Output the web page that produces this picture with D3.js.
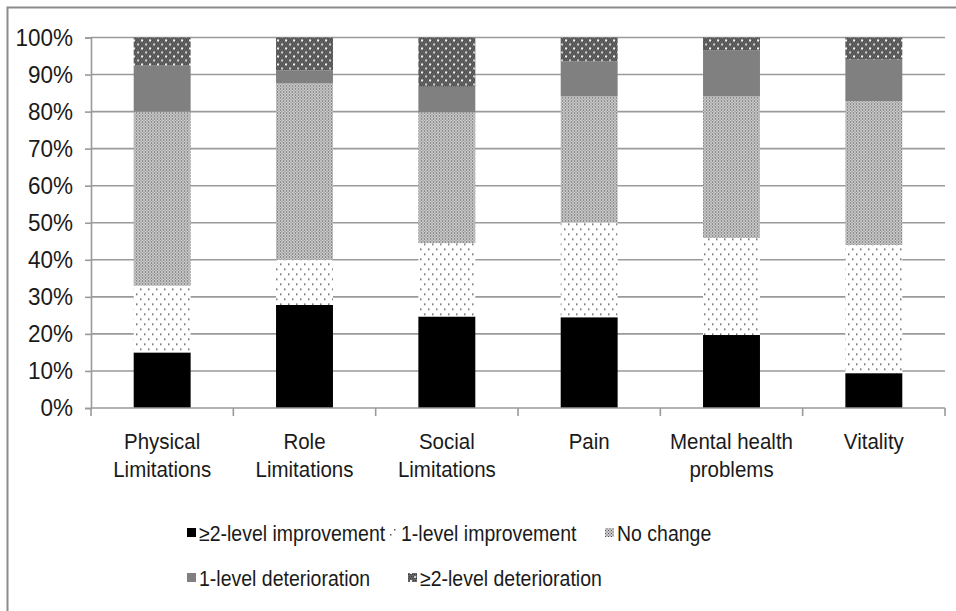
<!DOCTYPE html>
<html>
<head>
<meta charset="utf-8">
<script src="https://cdn.jsdelivr.net/npm/d3@7"></script>
<style>
  body { margin: 0; background: #fff; }
  text { font-family: "Liberation Sans", Arial, sans-serif; fill: #1a1a1a; }
</style>
</head>
<body>
<div id="chart"></div>
<script>
// categories (split over two lines like the original)
var categories = ["Physical Limitations", "Role Limitations", "Social Limitations", "Pain", "Mental health problems", "Vitality"];
var catLines = [["Physical", "Limitations"], ["Role", "Limitations"], ["Social", "Limitations"], ["Pain"], ["Mental health", "problems"], ["Vitality"]];

// percentages
var improve2 = [15.0, 27.8, 24.7, 24.5, 19.7, 9.4];
var improve1 = [18.0, 12.2, 19.8, 25.6, 26.2, 34.6];
var noChange = [47.0, 47.6, 35.3, 34.0, 38.2, 38.8];
var deter1   = [12.4, 3.5, 6.9, 9.5, 12.5, 11.2];
var deter2   = [7.6, 8.9, 13.3, 6.4, 3.4, 6.0];

var seriesNames = ["\u22652-level improvement", "1-level improvement", "No change", "1-level deterioration", "\u22652-level deterioration"];
var yTicks = [0, 10, 20, 30, 40, 50, 60, 70, 80, 90, 100];

var W = 956, H = 611;
var margin = {top: 37.5, right: 11, bottom: 203, left: 91};
var width = W - margin.left - margin.right;
var height = H - margin.top - margin.bottom;
var stretch = 1.1; // the original text is a bit taller than it is wide

var svg = d3.select("#chart").append("svg")
  .attr("width", W)
  .attr("height", H);

// outer frame (only left/top edges visible)
svg.append("rect")
  .attr("x", 7.5).attr("y", 7.5)
  .attr("width", 960).attr("height", 620)
  .attr("fill", "none").attr("stroke", "#8c8c8c").attr("stroke-width", 2);

// patterns
var defs = svg.append("defs");

// sparse dots for 1-level improvement
var p1 = defs.append("pattern").attr("id", "pImp1")
  .attr("patternUnits", "userSpaceOnUse").attr("width", 8).attr("height", 10);
p1.append("rect").attr("width", 8).attr("height", 10).attr("fill", "#fff");
p1.append("rect").attr("x", 1).attr("y", 1).attr("width", 1.5).attr("height", 1.5).attr("fill", "#555");
p1.append("rect").attr("x", 5).attr("y", 6).attr("width", 1.5).attr("height", 1.5).attr("fill", "#555");

// fine checker for no change
var p2 = defs.append("pattern").attr("id", "pNo")
  .attr("patternUnits", "userSpaceOnUse").attr("width", 3).attr("height", 3);
p2.append("rect").attr("width", 3).attr("height", 3).attr("fill", "#d0d0d0");
p2.append("rect").attr("x", 0).attr("y", 0).attr("width", 1).attr("height", 1).attr("fill", "#4a4a4a");
p2.append("rect").attr("x", 1.5).attr("y", 1.5).attr("width", 1).attr("height", 1).attr("fill", "#4a4a4a");

// dark checker with white dots for >=2-level deterioration
var p3 = defs.append("pattern").attr("id", "pDet2")
  .attr("patternUnits", "userSpaceOnUse").attr("width", 8).attr("height", 8);
p3.append("rect").attr("width", 8).attr("height", 8).attr("fill", "#666");
for (var i = 0; i < 8; i += 2) {
  for (var j = 0; j < 8; j += 2) {
    p3.append("rect").attr("x", i + ((j / 2) % 2)).attr("y", j).attr("width", 1).attr("height", 1).attr("fill", "#3c3c3c");
  }
}
p3.append("rect").attr("x", 2).attr("y", 2).attr("width", 2).attr("height", 2).attr("fill", "#f2f2f2");
p3.append("rect").attr("x", 6).attr("y", 6).attr("width", 2).attr("height", 2).attr("fill", "#cfcfcf");

var fills = ["#000", "url(#pImp1)", "url(#pNo)", "#808080", "url(#pDet2)"];

var g = svg.append("g")
  .attr("transform", "translate(" + margin.left + "," + margin.top + ")");

var x = d3.scaleBand().domain(categories).range([0, width]).paddingInner(0.6).paddingOuter(0.3);
var xTickScale = d3.scaleBand().domain(categories).range([0, width]);
var y = d3.scaleLinear().domain([0, 100]).range([height, 0]);

// gridlines
g.selectAll(".grid").data(yTicks.slice(1)).enter().append("line")
  .attr("x1", 0).attr("x2", width)
  .attr("y1", function(d) { return y(d); }).attr("y2", function(d) { return y(d); })
  .attr("stroke", "#9a9a9a").attr("stroke-width", 1.6);

// stacked data
var rows = categories.map(function(c, i) {
  return {cat: c, s0: improve2[i], s1: improve1[i], s2: noChange[i], s3: deter1[i], s4: deter2[i]};
});
var stack = d3.stack().keys(["s0", "s1", "s2", "s3", "s4"]);
var layers = stack(rows);

g.selectAll(".layer").data(layers).enter().append("g")
  .attr("fill", function(d, i) { return fills[i]; })
  .selectAll("rect").data(function(d) { return d; }).enter().append("rect")
  .attr("x", function(d) { return x(d.data.cat); })
  .attr("width", x.bandwidth())
  .attr("y", function(d) { return y(d[1]); })
  .attr("height", function(d) { return y(d[0]) - y(d[1]); });

// y axis
var yAxis = g.append("g")
  .call(d3.axisLeft(y).tickValues(yTicks).tickSize(6).tickPadding(12).tickFormat(function(d) { return d + "%"; }));
yAxis.select(".domain").attr("stroke", "#9a9a9a").attr("stroke-width", 1.6);
yAxis.selectAll(".tick line").attr("stroke", "#9a9a9a").attr("stroke-width", 1.6);
yAxis.selectAll(".tick text")
  .style("font-size", "22.5px").style("font-family", "Liberation Sans, Arial, sans-serif")
  .attr("fill", "#1a1a1a")
  .attr("transform", "scale(1," + stretch + ")");

// x axis line + category separators
g.append("line").attr("x1", 0).attr("x2", width).attr("y1", height).attr("y2", height)
  .attr("stroke", "#9a9a9a").attr("stroke-width", 1.6);
var sepPos = categories.map(function(c) { return xTickScale(c); }).concat([width]);
g.selectAll(".sep").data(sepPos).enter().append("line")
  .attr("x1", function(d) { return d; }).attr("x2", function(d) { return d; })
  .attr("y1", height).attr("y2", height + 8)
  .attr("stroke", "#9a9a9a").attr("stroke-width", 1.6);

// category labels
var lbl = g.selectAll(".cat").data(catLines).enter().append("text")
  .attr("text-anchor", "middle")
  .style("font-size", "20.5px")
  .attr("transform", function(d, i) {
    return "translate(" + (xTickScale(categories[i]) + xTickScale.bandwidth() / 2) + "," + (height + 41) + ") scale(1," + stretch + ")";
  });
lbl.selectAll("tspan").data(function(d) { return d; }).enter().append("tspan")
  .attr("x", 0).attr("dy", function(d, i) { return i === 0 ? 0 : 28 / stretch; })
  .text(function(d) { return d; });

// legend
var legendPos = [
  {x: 187, y: 533}, {x: 389, y: 533}, {x: 605, y: 533},
  {x: 187, y: 578}, {x: 408, y: 578}
];
var leg = svg.selectAll(".leg").data(seriesNames).enter().append("g")
  .attr("transform", function(d, i) { return "translate(" + legendPos[i].x + "," + legendPos[i].y + ")"; });
leg.append("rect").attr("x", 0).attr("y", -5).attr("width", 9).attr("height", 9)
  .attr("fill", function(d, i) { return fills[i]; });
leg.append("text").attr("x", 12).attr("y", 0).attr("dy", "0.36em").style("font-size", "19.5px")
  .attr("transform", "scale(1," + stretch + ")")
  .text(function(d) { return d; });
</script>
</body>
</html>
